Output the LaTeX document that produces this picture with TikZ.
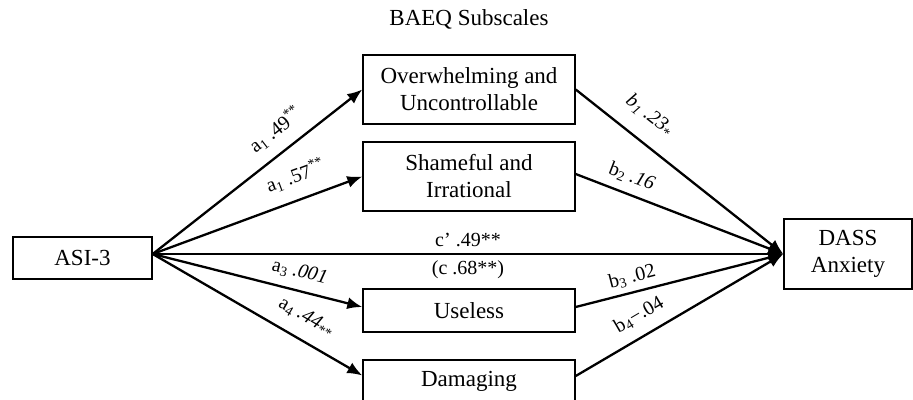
\documentclass[tikz,border=0pt]{standalone}
\usepackage{fontspec}
\setmainfont{Liberation Serif}
\usetikzlibrary{arrows.meta}
\begin{document}
\begin{tikzpicture}[x=1pt,y=-1pt,
 box/.style={draw, line width=1.4pt, inner sep=0pt, align=center, minimum width=212pt, font=\fontsize{23}{27}\selectfont},
 arr/.style={line width=2.3pt, -{Latex[length=15pt,width=12pt]}},
 lbl/.style={font=\fontsize{20}{23}\selectfont, sloped, anchor=center, inner sep=0pt},
 flat/.style={font=\fontsize{20}{23}\selectfont, anchor=center, inner sep=0pt}]
\clip (0,0) rectangle (913,399);
\node[font=\fontsize{23}{27}\selectfont] (title) at (469,19) {BAEQ Subscales};
\node[box, minimum width=139pt, minimum height=42pt] (asi) at (82.5,258) {ASI-3};
\node[box, minimum width=128pt, minimum height=70pt] (dass) at (848,254) {DASS\\Anxiety};
\node[box, minimum height=69pt] (ovw) at (469,89.5) {Overwhelming and\\Uncontrollable};
\node[box, minimum height=69pt] (sham) at (469,176.5) {Shameful and\\Irrational};
\node[box, minimum height=43pt] (use) at (469,310.5) {Useless};
\node[box, minimum height=43pt] (dam) at (469,381.5) {Damaging};
\coordinate (src) at ([yshift=4pt]asi.east);
\coordinate (usein) at ([yshift=3.5pt]use.west);
\coordinate (useout) at ([yshift=3.5pt]use.east);
\coordinate (damin) at ([yshift=6pt]dam.west);
\coordinate (damout) at ([yshift=5.5pt]dam.east);
\coordinate (shamout) at ([yshift=2.5pt]sham.east);
\draw[arr] (src) -- node[lbl, pos=0.65, yshift=22pt] {a\textsubscript{1} .49\textsuperscript{**}} (ovw.west);
\draw[arr] (src) -- node[lbl, pos=0.72, yshift=24pt] {a\textsubscript{1} .57\textsuperscript{**}} (sham.west);
\draw[arr] (src) -- node[lbl, pos=0.68, yshift=18.5pt] {a\textsubscript{3} \textit{.001}} (usein);
\draw[arr] (src) -- node[lbl, pos=0.68, yshift=22.5pt] {a\textsubscript{4} \textit{.44}\textsubscript{**}} (damin);
\draw[arr] (src) -- node[flat, pos=0.5, yshift=14pt] {c’ .49**} node[flat, pos=0.5, yshift=-16pt] {(c .68**)} (dass.west);
\draw[arr] (ovw.east) -- node[lbl, pos=0.28, yshift=25.7pt] {\textit{b\textsubscript{1} .23}\textsubscript{*}} (dass.west);
\draw[arr] (shamout) -- node[lbl, pos=0.24, yshift=17.4pt] {b\textsubscript{2} \textit{.16}} (dass.west);
\draw[arr] (useout) -- node[lbl, pos=0.29, yshift=15pt] {b\textsubscript{3} .02} (dass.west);
\draw[arr] (damout) -- node[lbl, pos=0.355, yshift=20.5pt] {b\textsubscript{4}−.04} (dass.west);
\end{tikzpicture}
\end{document}
